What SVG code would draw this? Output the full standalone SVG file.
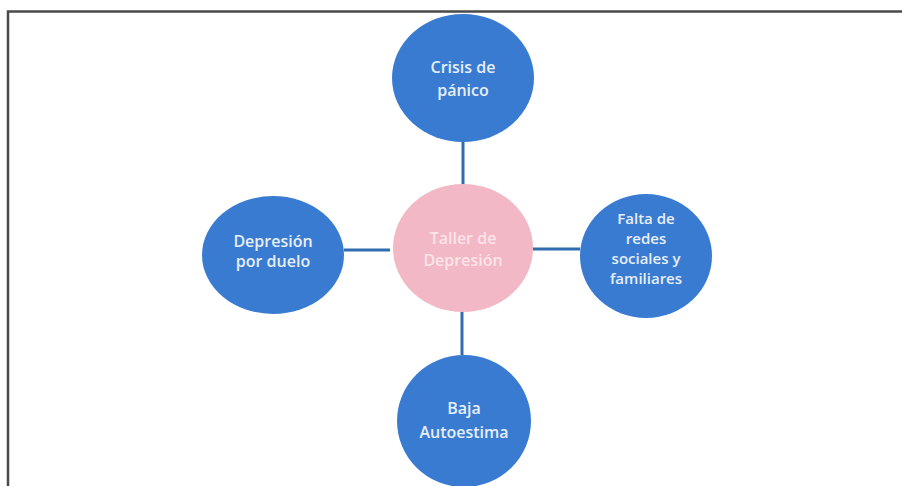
<svg xmlns="http://www.w3.org/2000/svg" width="902" height="486" viewBox="0 0 902 486">
<style>
.frame{stroke:#4a4a4a;stroke-width:2.5;fill:none}
.conn{stroke:#2f6cb0;stroke-width:3;fill:none}
.node{fill:#3a7bd2}
.center{fill:#f2b8c6}
.t{font-family:"Open Sans","Liberation Sans",sans-serif;font-size:16px;font-weight:600;fill:#e6effa;text-anchor:middle}
.s{font-size:15px}
.tc{font-family:"Open Sans","Liberation Sans",sans-serif;font-size:16px;font-weight:600;fill:#fbe4ea;text-anchor:middle}
</style>
<rect width="902" height="486" fill="#fff"/>
<path class="frame" d="M902 11.5H8V486"/>
<g id="connectors">
<line class="conn" x1="463" y1="142" x2="463" y2="185"/>
<line class="conn" x1="533" y1="249" x2="580" y2="249"/>
<line class="conn" x1="344" y1="250" x2="390" y2="250"/>
<line class="conn" x1="462" y1="312" x2="462" y2="355"/>
</g>
<g id="center">
<ellipse class="center" cx="463" cy="248" rx="70" ry="64"/>
<text class="tc" x="463" y="244">Taller  de</text>
<text class="tc" x="463" y="266">Depresión</text>
</g>
<g id="crisis">
<ellipse class="node" cx="463" cy="78" rx="71" ry="64"/>
<text class="t" x="463" y="73">Crisis de</text>
<text class="t" x="463" y="96">pánico</text>
</g>
<g id="falta">
<ellipse class="node" cx="646" cy="256" rx="66" ry="62"/>
<text class="t s" x="646" y="224">Falta de</text>
<text class="t s" x="646" y="244">redes</text>
<text class="t s" x="646" y="264">sociales y</text>
<text class="t s" x="646" y="284">familiares</text>
</g>
<g id="duelo">
<ellipse class="node" cx="273" cy="255" rx="71" ry="59"/>
<text class="t" x="273" y="247">Depresión</text>
<text class="t" x="273" y="267">por duelo</text>
</g>
<g id="baja">
<ellipse class="node" cx="464" cy="421" rx="67" ry="66"/>
<text class="t" x="464" y="414">Baja</text>
<text class="t" x="464" y="438">Autoestima</text>
</g>
</svg>
